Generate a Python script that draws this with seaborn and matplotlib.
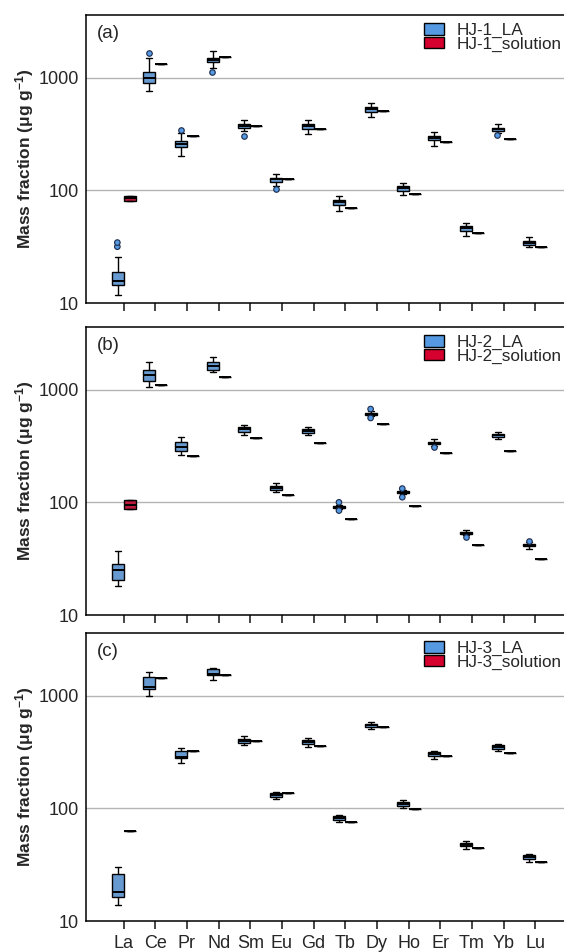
import numpy as np
import pandas as pd
import matplotlib
matplotlib.use("Agg")
import matplotlib.pyplot as plt
import seaborn as sns
from matplotlib.patches import Patch
from matplotlib import font_manager

ELEMENTS = ["La", "Ce", "Pr", "Nd", "Sm", "Eu", "Gd", "Tb", "Dy", "Ho", "Er", "Tm", "Yb", "Lu"]
SAMPLES = ["HJ-1", "HJ-2", "HJ-3"]
PANEL_TAGS = ["(a)", "(b)", "(c)"]
Y_TICKS = [10, 100, 1000]

# ---- panel (a): HJ-1 ----
A_LA_LO = [11.8, 759, 201, 1216, 334, 110, 316, 66, 446, 90, 248, 39.5, 325, 31.2]
A_LA_Q1 = [14.4, 898, 243, 1372, 357, 119, 350, 74.3, 496, 98, 277, 43.7, 334, 32.7]
A_LA_MED = [15.6, 1000, 260, 1448, 374, 125, 371, 78.5, 528, 105, 292, 46.1, 350, 34.3]
A_LA_Q3 = [18.7, 1121, 276, 1497, 390, 129, 390, 82.3, 553, 110, 303, 48, 361, 35.7]
A_LA_HI = [25.6, 1487, 323, 1738, 423, 139, 417, 89.2, 596, 117, 327, 51, 390, 38.5]
A_OUT_EL = ["La", "La", "Ce", "Pr", "Nd", "Sm", "Eu", "Yb"]
A_OUT_VAL = [31.6, 34.4, 1646, 343, 1129, 302, 103, 308]
A_SOL_Q1 = [80.6, 1318, 302, 1538, 369, 125, 348, 69, 507, 93, 269, 41.7, 288, 31.4]
A_SOL_MED = [85, 1318, 302, 1538, 369, 125, 348, 69, 507, 93, 269, 41.7, 288, 31.4]
A_SOL_Q3 = [89.8, 1318, 302, 1538, 369, 125, 348, 69, 507, 93, 269, 41.7, 288, 31.4]

# ---- panel (b): HJ-2 ----
B_LA_LO = [18.2, 1048, 265, 1447, 399, 124, 393, 88, 589, 117.5, 319, 51, 368, 38.3]
B_LA_Q1 = [20.6, 1199, 283, 1506, 423, 129, 412, 89.1, 600, 120, 328, 52, 380, 40.9]
B_LA_MED = [24.9, 1343, 311, 1633, 444, 135, 432, 91, 613, 122, 339, 53.2, 393, 41.8]
B_LA_Q3 = [28.6, 1496, 340, 1758, 462, 140, 447, 92.9, 625, 125, 346, 54.7, 406, 42.7]
B_LA_HI = [37, 1770, 383, 1944, 488, 149, 471, 94.8, 643, 128, 366, 57.3, 424, 44.1]
B_OUT_EL = ["Tb", "Tb", "Dy", "Dy", "Ho", "Ho", "Er", "Tm", "Lu"]
B_OUT_VAL = [100, 84.5, 673, 561, 132.5, 111, 307, 49, 45.6]
B_SOL_Q1 = [87, 1091, 259, 1291, 371, 117, 333, 71.5, 491, 93, 272, 41.8, 283, 31.7]
B_SOL_MED = [95, 1091, 259, 1291, 371, 117, 333, 71.5, 491, 93, 272, 41.8, 283, 31.7]
B_SOL_Q3 = [105, 1091, 259, 1291, 371, 117, 333, 71.5, 491, 93, 272, 41.8, 283, 31.7]

# ---- panel (c): HJ-3 ----
C_LA_LO = [13.9, 1000, 254, 1380, 366, 121, 351, 75.5, 511, 101, 274, 43.3, 321, 33.3]
C_LA_Q1 = [16.3, 1144, 279, 1528, 380, 126, 373, 79.1, 522, 105, 293, 45.9, 335, 35.8]
C_LA_MED = [18.2, 1191, 283, 1548, 396, 132, 388, 82.3, 547, 110, 305, 47.5, 351, 37.3]
C_LA_Q3 = [26.0, 1457, 324, 1711, 415, 137, 404, 85.8, 565, 114, 317, 49.4, 366, 38.5]
C_LA_HI = [30.1, 1611, 340, 1757, 435, 141, 421, 88.1, 589, 118, 324, 50.8, 375, 39.7]
C_OUT_EL = []
C_OUT_VAL = []
C_SOL_Q1 = [63, 1446, 322, 1516, 396, 138, 361, 75, 525, 98.7, 291, 44.7, 313, 33.5]
C_SOL_MED = [63, 1446, 322, 1516, 396, 138, 361, 75, 525, 98.7, 291, 44.7, 313, 33.5]
C_SOL_Q3 = [63, 1446, 322, 1516, 396, 138, 361, 75, 525, 98.7, 291, 44.7, 313, 33.5]

PANELS = [
    (A_LA_LO, A_LA_Q1, A_LA_MED, A_LA_Q3, A_LA_HI, A_OUT_EL, A_OUT_VAL, A_SOL_Q1, A_SOL_MED, A_SOL_Q3),
    (B_LA_LO, B_LA_Q1, B_LA_MED, B_LA_Q3, B_LA_HI, B_OUT_EL, B_OUT_VAL, B_SOL_Q1, B_SOL_MED, B_SOL_Q3),
    (C_LA_LO, C_LA_Q1, C_LA_MED, C_LA_Q3, C_LA_HI, C_OUT_EL, C_OUT_VAL, C_SOL_Q1, C_SOL_MED, C_SOL_Q3),
]

BLUE = "#5599e2"
RED = "#d5002e"

sns.set_style("white")
avail = {f.name for f in font_manager.fontManager.ttflist}
BASE_FONT = "Liberation Sans" if "Liberation Sans" in avail else "DejaVu Sans"
LABEL_FONT = "Liberation Sans Narrow" if "Liberation Sans Narrow" in avail else BASE_FONT
plt.rcParams["font.family"] = [BASE_FONT, "DejaVu Sans"]
plt.rcParams["mathtext.fontset"] = "custom"
plt.rcParams["mathtext.rm"] = LABEL_FONT + ":bold"
plt.rcParams["mathtext.it"] = LABEL_FONT + ":bold"
plt.rcParams["mathtext.bf"] = LABEL_FONT + ":bold"

W, H = 564, 952
fig = plt.figure(figsize=(W / 100, H / 100), dpi=100)
tops = [15, 327, 633]
ph = 288
left = 86
right_px = 575          # axes run past the right edge of the figure
x_lo, step = -1.19, 31.66
x_hi = x_lo + (right_px - left) / step

for i, (lo, q1, med, q3, hi, out_el, out_val, s_q1, s_med, s_q3) in enumerate(PANELS):
    la_name = SAMPLES[i] + "_LA"
    sol_name = SAMPLES[i] + "_solution"
    rows = []
    for k, el in enumerate(ELEMENTS):
        for v in (lo[k], q1[k], med[k], q3[k], hi[k]):
            rows.append((el, la_name, v))
        for v in (s_q1[k], s_q1[k], s_med[k], s_q3[k], s_q3[k]):
            rows.append((el, sol_name, v))
    df = pd.DataFrame(rows, columns=["element", "series", "value"])
    out_df = pd.DataFrame({"element": out_el, "series": [la_name] * len(out_el), "value": out_val})

    ax = fig.add_axes([left / W, 1 - (tops[i] + ph) / H, (right_px - left) / W, ph / H])
    ax.set_yscale("log")
    sns.boxplot(data=df, x="element", y="value", hue="series", order=ELEMENTS,
                hue_order=[la_name, sol_name], palette=[BLUE, RED], width=0.76, gap=0,
                whis=(0, 100), showfliers=False, linewidth=1.0, linecolor="black",
                medianprops=dict(linewidth=1.4), ax=ax, legend=False)
    if len(out_df):
        sns.stripplot(data=out_df, x="element", y="value", hue="series", order=ELEMENTS,
                      hue_order=[la_name, sol_name], palette=[BLUE, RED], dodge=True,
                      jitter=False, size=4, linewidth=0.8, edgecolor="#1c2a4a", ax=ax,
                      legend=False, zorder=5)

    ax.set_ylim(10, 3600)
    ax.set_xlim(x_lo, x_hi)
    ax.set_yticks(Y_TICKS)
    ax.set_yticklabels([str(t) for t in Y_TICKS])
    ax.yaxis.set_minor_locator(matplotlib.ticker.NullLocator())
    ax.tick_params(axis="y", length=0, pad=5, labelsize=13)
    ax.tick_params(axis="x", length=6, width=1.2, direction="out", bottom=True, pad=4, labelsize=13)
    for t in Y_TICKS[1:]:
        ax.axhline(t, color="#b4b4b4", lw=1.0, zorder=0)
    ax.set_xlabel("")
    ax.set_ylabel("")
    if i < 2:
        ax.set_xticklabels([])
    for s in ["left", "bottom", "top"]:
        ax.spines[s].set_visible(True)
        ax.spines[s].set_color("black")
        ax.spines[s].set_linewidth(1.1)
    ax.spines["right"].set_visible(False)

    ax.text(11 / (right_px - left), 0.966, PANEL_TAGS[i], transform=ax.transAxes,
            ha="left", va="top", fontsize=13.5)

    handles = [Patch(facecolor=BLUE, edgecolor="black", linewidth=1.0, label=la_name),
               Patch(facecolor=RED, edgecolor="black", linewidth=1.0, label=sol_name)]
    ax.legend(handles=handles, loc="upper left",
              bbox_to_anchor=((423.7 - left) / (right_px - left), 0.972), frameon=False,
              fontsize=12.3, borderpad=0, borderaxespad=0, labelspacing=-0.1,
              handlelength=1.2, handleheight=0.65, handletextpad=0.72)

    fig.text(25 / W, 1 - (tops[i] + ph / 2) / H, r"Mass fraction ($\mu$g g$^{-1}$)",
             rotation=90, ha="center", va="center", fontsize=12.5,
             family=[LABEL_FONT, "DejaVu Sans"], fontweight="bold")

fig.savefig("out.png", dpi=100)
